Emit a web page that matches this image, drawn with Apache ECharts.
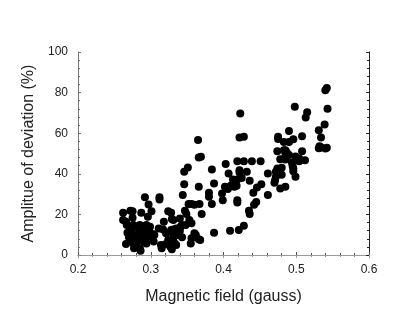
<!DOCTYPE html>
<html lang="en">
<head>
	<meta charset="UTF-8">
	<title>scatter</title>
	<style>
		html, body { margin: 0; padding: 0; background: #fff; }
	</style>
</head>
<body>
	<div id="chart" style="width:407px;height:327px;"></div>
	<script src="https://cdn.jsdelivr.net/npm/echarts@6/dist/echarts.min.js"></script>
	<script type="text/javascript">
		// magnetic field (gauss) values
		let fieldValues = [
			0.542, 0.540, 0.543, 0.539, 0.531, 0.534, 0.532, 0.534, 0.531, 0.540, 0.542,
			0.498, 0.513, 0.515, 0.508, 0.490, 0.496, 0.490, 0.483, 0.475, 0.475, 0.474,
			0.483, 0.485, 0.487, 0.485, 0.490, 0.478, 0.499, 0.504, 0.508, 0.504, 0.512,
			0.494, 0.495, 0.496, 0.496, 0.499, 0.485, 0.480, 0.474, 0.472, 0.476, 0.480,
			0.472, 0.471, 0.470, 0.478, 0.485, 0.461, 0.461,
			0.423, 0.422, 0.428, 0.419, 0.428, 0.422, 0.422, 0.432, 0.413, 0.419, 0.425,
			0.436, 0.439, 0.451, 0.418, 0.415, 0.410, 0.407, 0.403, 0.406, 0.402, 0.398,
			0.399, 0.419, 0.419, 0.441, 0.446, 0.452, 0.445, 0.442, 0.435, 0.436, 0.428,
			0.421, 0.409, 0.387,
			0.365, 0.366, 0.369, 0.351, 0.346, 0.384, 0.387, 0.366, 0.346, 0.380, 0.380,
			0.344, 0.384, 0.352, 0.356, 0.367, 0.360, 0.370, 0.347, 0.349, 0.340, 0.353,
			0.356, 0.343, 0.348, 0.341, 0.335, 0.331, 0.340, 0.360, 0.362, 0.356, 0.366,
			0.368, 0.343, 0.337, 0.355,
			0.324, 0.328, 0.318, 0.329, 0.331, 0.311, 0.317, 0.328, 0.321, 0.331, 0.324,
			0.331, 0.333, 0.335, 0.327, 0.329, 0.314, 0.315, 0.321, 0.304, 0.305, 0.312,
			0.312, 0.303,
			0.262, 0.262, 0.266, 0.272, 0.275, 0.275, 0.267, 0.271, 0.276, 0.280, 0.285,
			0.287, 0.292, 0.297, 0.301, 0.296, 0.299, 0.294, 0.290, 0.284, 0.288, 0.292,
			0.296, 0.270, 0.273, 0.277, 0.280, 0.285, 0.278, 0.282, 0.287, 0.292, 0.294,
			0.296, 0.290, 0.294, 0.276, 0.280, 0.266, 0.277, 0.285, 0.286, 0.281, 0.273,
			0.268
		];
		// amplitude of deviation (%) for each point above
		let amplitudeValues = [
			82.3, 81.1, 72.0, 64.3, 61.5, 57.9, 53.6, 53.0, 52.6, 52.5, 52.8,
			73.0, 67.7, 70.3, 58.5, 61.1, 57.0, 55.7, 55.7, 58.2, 57.2, 51.1,
			51.6, 51.6, 50.5, 48.7, 49.2, 47.2, 48.5, 47.5, 51.1, 46.2, 46.7,
			45.6, 43.8, 42.6, 41.3, 38.5, 47.0, 43.0, 42.6, 41.0, 40.7, 39.5,
			38.5, 36.9, 35.6, 32.8, 33.6, 40.2, 29.5,
			69.7, 57.9, 58.2, 46.2, 46.2, 41.8, 40.7, 41.0, 37.2, 37.2, 37.9,
			36.6, 46.2, 46.2, 34.1, 33.6, 34.1, 40.2, 44.8, 32.5, 33.6, 30.3,
			27.0, 27.0, 25.9, 30.7, 33.3, 34.8, 26.1, 24.8, 21.8, 20.2, 14.4,
			12.3, 12.0, 11.0,
			56.6, 48.0, 48.4, 43.1, 41.0, 42.1, 35.2, 33.6, 34.8, 30.7, 28.7,
			29.5, 25.1, 25.1, 25.1, 25.1, 24.8, 20.2, 21.8, 20.2, 18.0, 17.2,
			15.6, 14.8, 14.8, 13.9, 13.1, 12.6, 12.0, 10.7, 9.8, 8.2, 7.7,
			7.4, 8.7, 9.8, 5.7,
			21.5, 20.8, 16.4, 17.7, 17.2, 13.1, 12.6, 12.3, 10.7, 9.8, 7.4,
			7.0, 5.7, 4.9, 4.1, 2.8, 4.9, 3.3, 5.4, 6.6, 9.8, 28.4,
			27.4, 10.3,
			20.8, 17.2, 16.4, 21.8, 21.6, 18.4, 14.8, 13.9, 14.8, 13.9, 14.8,
			20.8, 28.4, 24.9, 21.6, 18.9, 13.9, 14.8, 13.9, 12.6, 12.3, 11.5,
			12.6, 8.7, 8.2, 9.0, 9.8, 10.7, 7.4, 7.7, 8.2, 8.7, 9.8,
			7.7, 6.6, 5.7, 5.7, 5.4, 5.4, 3.3, 3.3, 2.1, 6.6, 11.5,
			11.0
		];
		let xTicks = { min: 0.2, max: 0.6, interval: 0.1 };
		let yTicks = { min: 0, max: 100, interval: 20 };

		let points = fieldValues.map(function (x, i) {
			return [x, amplitudeValues[i]];
		});

		let myChart = echarts.init(document.getElementById('chart'), null, { renderer: 'canvas' });
		let font = "'Liberation Sans', Arial, sans-serif";

		function frameAxis(pos, showLabel, lineColor) {
			return {
				type: 'value',
				position: pos,
				axisLine: { show: true, lineStyle: { color: lineColor, width: 1 } },
				axisTick: { show: true, inside: true, length: 3, lineStyle: { color: lineColor } },
				minorTick: { show: true, splitNumber: 5, length: 2, lineStyle: { color: lineColor } },
				splitLine: { show: false },
				axisLabel: { show: showLabel, color: '#222', fontSize: 12, fontFamily: font, margin: 9 }
			};
		}

		let xBottom = Object.assign(frameAxis('bottom', true, '#555'), xTicks, {
			name: 'Magnetic field (gauss)',
			nameLocation: 'middle',
			nameGap: 34,
			nameTextStyle: { color: '#222', fontSize: 16, fontFamily: font }
		});
		xBottom.axisLabel.formatter = function (v) { return v.toFixed(1); };
		let xTop = Object.assign(frameAxis('top', false, '#999'), xTicks);

		let yLeft = Object.assign(frameAxis('left', true, '#777'), yTicks, {
			name: 'Amplitue of deviation (%)',
			nameLocation: 'middle',
			nameGap: 40,
			nameTextStyle: { color: '#222', fontSize: 16, fontFamily: font }
		});
		yLeft.axisLabel.margin = 10;
		let yRight = Object.assign(frameAxis('right', false, '#222'), yTicks);

		let option = {
			backgroundColor: '#fff',
			animation: false,
			grid: { left: 78, right: 38, top: 52, bottom: 72 },
			xAxis: [xBottom, xTop],
			yAxis: [yLeft, yRight],
			series: [
				{
					type: 'scatter',
					xAxisIndex: 0,
					yAxisIndex: 0,
					symbolSize: 8,
					itemStyle: { color: '#000', opacity: 1 },
					data: points
				}
			]
		};
		myChart.setOption(option);
	</script>
</body>
</html>
